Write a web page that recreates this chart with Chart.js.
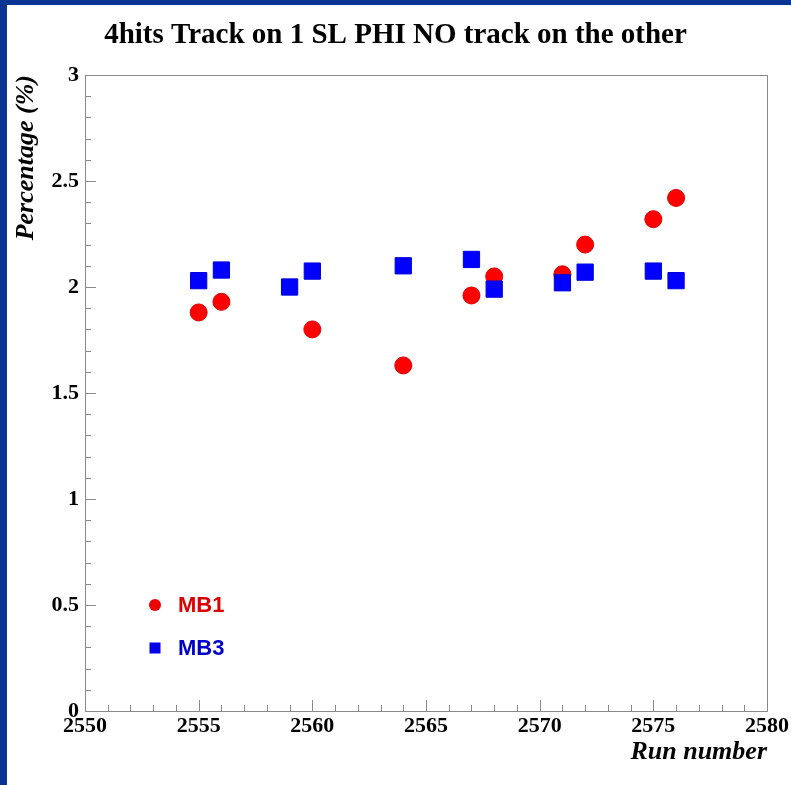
<!DOCTYPE html>
<html>
<head>
<meta charset="utf-8">
<script src="https://cdn.jsdelivr.net/npm/chart.js@4"></script>
<style>
  body { margin: 0; background: #fff; }
  #wrap { position: relative; width: 791px; height: 785px; overflow: hidden; }
  #chart { position: absolute; left: 0; top: 0; }
  .bord { position: absolute; background: #0a3494; z-index: 2; }
</style>
</head>
<body>
<div id="wrap">
  <canvas id="chart" width="791" height="785"></canvas>
  <div class="bord" style="left:0;top:0;width:791px;height:5px"></div>
  <div class="bord" style="left:0;top:0;width:7px;height:785px"></div>
</div>
<script>
// dados
const runsMB1 = [2555, 2556, 2560, 2564, 2567, 2568, 2571, 2572, 2575, 2576];
const valoresMB1 = [1.88, 1.93, 1.80, 1.63, 1.96, 2.05, 2.06, 2.20, 2.32, 2.42];
const runsMB3 = [2555, 2556, 2559, 2560, 2564, 2567, 2568, 2571, 2572, 2575, 2576];
const valoresMB3 = [2.03, 2.08, 2.00, 2.075, 2.10, 2.13, 1.99, 2.02, 2.07, 2.075, 2.03];
const xMin = 2550, xMax = 2580, xStep = 5;
const yMin = 0, yMax = 3, yStep = 0.5;

const toPontos = (xs, ys) => xs.map((x, i) => ({ x: x, y: ys[i] }));

// moldura, ticks menores e legenda no estilo ROOT
const molduraPlugin = {
  id: "moldura",
  afterDatasetsDraw(chart) {
    const { ctx, chartArea: a, scales } = chart;
    ctx.save();
    ctx.strokeStyle = "#8a8a8a";
    ctx.lineWidth = 1;
    ctx.strokeRect(a.left + 0.5, a.top + 0.5, a.right - a.left, a.bottom - a.top);
    ctx.beginPath();
    for (let v = xMin; v <= xMax; v += 1) {
      const px = Math.round(scales.x.getPixelForValue(v)) + 0.5;
      const len = (v - xMin) % xStep === 0 ? 11 : 6;
      ctx.moveTo(px, a.bottom);
      ctx.lineTo(px, a.bottom - len);
    }
    for (let i = 0; i <= 30; i++) {
      const v = yMin + i * 0.1;
      const py = Math.round(scales.y.getPixelForValue(v)) + 0.5;
      const len = i % 5 === 0 ? 11 : 6;
      ctx.moveTo(a.left, py);
      ctx.lineTo(a.left + len, py);
    }
    ctx.stroke();

    // legenda
    const lx = a.left + 70;
    const ly1 = a.bottom - 106;
    const ly2 = a.bottom - 63;
    ctx.fillStyle = "#ee0000";
    ctx.beginPath();
    ctx.arc(lx, ly1, 6, 0, Math.PI * 2);
    ctx.fill();
    ctx.fillStyle = "#0000ee";
    ctx.fillRect(lx - 5.5, ly2 - 5.5, 11, 11);
    ctx.font = "bold 22px 'Liberation Sans'";
    ctx.textBaseline = "middle";
    ctx.fillStyle = "#dd0000";
    ctx.fillText("MB1", lx + 23, ly1 + 1);
    ctx.fillStyle = "#0000cc";
    ctx.fillText("MB3", lx + 23, ly2 + 1);
    ctx.restore();
  },
};

new Chart(document.getElementById("chart"), {
  type: "scatter",
  data: {
    datasets: [
      {
        label: "MB3",
        data: toPontos(runsMB3, valoresMB3),
        pointStyle: "rect",
        pointRadius: 11.5,
        pointHoverRadius: 11.5,
        backgroundColor: "#0000ff",
        borderColor: "#0000dd",
        borderWidth: 1,
      },
      {
        label: "MB1",
        data: toPontos(runsMB1, valoresMB1),
        pointStyle: "circle",
        pointRadius: 8.5,
        pointHoverRadius: 8.5,
        backgroundColor: "#ff0000",
        borderColor: "#dd0000",
        borderWidth: 1,
      },
    ],
  },
  options: {
    responsive: false,
    animation: false,
    layout: { padding: 0 },
    plugins: {
      legend: { display: false },
      tooltip: { enabled: false },
      title: {
        display: true,
        text: "4hits Track on 1 SL PHI NO track on the other",
        color: "#000",
        font: { family: "'Liberation Serif'", size: 29, weight: "bold" },
        padding: { top: 18.5, bottom: 21.7 },
      },
    },
    scales: {
      x: {
        type: "linear",
        min: xMin,
        max: xMax,
        grid: { display: false, drawTicks: false },
        border: { display: false },
        ticks: {
          stepSize: xStep,
          padding: 2,
          color: "#000",
          font: { family: "'Liberation Serif'", size: 22, weight: "bold" },
          callback: (v) => String(v),
        },
        title: {
          display: true,
          text: "Run number",
          align: "end",
          color: "#000",
          font: { family: "'Liberation Serif'", size: 26, weight: "bold", style: "italic" },
          padding: { top: 0, bottom: 17 },
        },
        afterFit: (s) => { s.height = 74; },
      },
      y: {
        min: yMin,
        max: yMax,
        grid: { display: false, drawTicks: false },
        border: { display: false },
        ticks: {
          stepSize: yStep,
          padding: 6,
          color: "#000",
          font: { family: "'Liberation Serif'", size: 22, weight: "bold" },
          callback: (v) => String(v),
        },
        title: {
          display: true,
          text: "Percentage (%)",
          align: "end",
          color: "#000",
          font: { family: "'Liberation Serif'", size: 26, weight: "bold", style: "italic" },
          padding: { top: 11, bottom: 0 },
        },
        afterFit: (s) => { s.width = 85; },
      },
      // eixo vazio à direita só para reservar a margem
      margemDireita: {
        type: "linear",
        position: "right",
        min: yMin,
        max: yMax,
        grid: { display: false, drawTicks: false },
        border: { display: false },
        ticks: { display: false },
        afterFit: (s) => { s.width = 23; },
      },
    },
  },
  plugins: [molduraPlugin],
});
</script>
</body>
</html>
